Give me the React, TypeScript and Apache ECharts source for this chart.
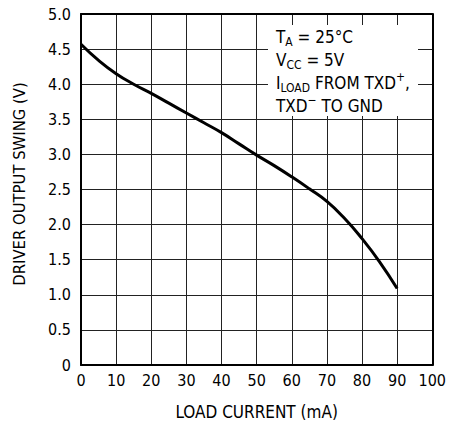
import React, { useEffect, useRef } from "react";
import * as echarts from "echarts";

const loadCurrent = [0, 5, 10, 15, 20, 25, 30, 35, 40, 45, 50, 55, 60, 65, 70, 75, 80, 85, 90];
const outputSwing = [4.57, 4.34, 4.15, 4.0, 3.87, 3.73, 3.59, 3.45, 3.31, 3.15, 2.99, 2.84, 2.68, 2.51, 2.33, 2.09, 1.8, 1.47, 1.09];
const xTicks = { min: 0, max: 100, interval: 10 };
const yTicks = { min: 0, max: 5, interval: 0.5 };

const FONT = "'DejaVu Sans Condensed', 'Liberation Sans Narrow', sans-serif";

export default function App() {
  const ref = useRef<HTMLDivElement>(null);
  useEffect(() => {
    if (!ref.current) return;
    const chart = echarts.init(ref.current, null, { renderer: "svg" });
    const main = { fontSize: 17, fontFamily: FONT, color: "#000", lineHeight: 23 };
    const sub = { fontSize: 12, fontFamily: FONT, color: "#000", lineHeight: 8, verticalAlign: "bottom" };
    const sup = { fontSize: 12, fontFamily: FONT, color: "#000", lineHeight: 8, verticalAlign: "top" };
    const borderAxis = {
      type: "value",
      axisLine: { show: true, onZero: false, lineStyle: { color: "#000", width: 2 } },
      axisTick: { show: false },
      axisLabel: { show: false },
      splitLine: { show: false },
    };
    chart.setOption({
      animation: false,
      backgroundColor: "#fff",
      grid: {
        left: 81,
        right: 16,
        top: 14,
        bottom: 60,
      },
      xAxis: [
        {
          type: "value",
          min: xTicks.min,
          max: xTicks.max,
          interval: xTicks.interval,
          position: "bottom",
          name: "LOAD CURRENT (mA)",
          nameLocation: "middle",
          nameGap: 38,
          nameTextStyle: { fontSize: 17, fontFamily: FONT, color: "#000" },
          axisLine: { show: true, onZero: false, lineStyle: { color: "#000", width: 2 } },
          axisTick: { show: false },
          axisLabel: { fontSize: 16, fontFamily: FONT, color: "#000", margin: 7 },
          splitLine: { show: true, lineStyle: { color: "#222", width: 1 } },
        },
        { ...borderAxis, position: "top", min: xTicks.min, max: xTicks.max },
      ],
      yAxis: [
        {
          type: "value",
          min: yTicks.min,
          max: yTicks.max,
          interval: yTicks.interval,
          position: "left",
          axisLine: { show: true, onZero: false, lineStyle: { color: "#000", width: 2 } },
          axisTick: { show: false },
          axisLabel: {
            fontSize: 16,
            fontFamily: FONT,
            color: "#000",
            margin: 10,
            formatter: (v: number) => (v === 0 ? "0" : v.toFixed(1)),
          },
          splitLine: { show: true, lineStyle: { color: "#222", width: 1 } },
        },
        { ...borderAxis, position: "right", min: yTicks.min, max: yTicks.max },
      ],
      series: [
        {
          type: "line",
          data: loadCurrent.map((x, i) => [x, outputSwing[i]]),
          smooth: true,
          showSymbol: false,
          lineStyle: { color: "#000", width: 3 },
          z: 5,
        },
      ],
      graphic: [
        {
          type: "text",
          x: 19,
          y: 184,
          rotation: Math.PI / 2,
          style: {
            text: "DRIVER OUTPUT SWING (V)",
            fontSize: 16.5,
            fontFamily: FONT,
            fill: "#000",
            align: "center",
            verticalAlign: "middle",
          },
        },
        {
          type: "rect",
          shape: { x: 268, y: 25, width: 150, height: 91 },
          style: { fill: "#fff" },
          z: 10,
        },
        {
          type: "text",
          x: 276,
          y: 25,
          z: 11,
          style: {
            text:
              "{m|T}{s|A}{m| = 25°C}\n{m|V}{s|CC}{m| = 5V}\n{m|I}{s|LOAD}{m| FROM TXD}{p|+}{m|,}\n{m|TXD}{p|−}{m| TO GND}",
            rich: { m: main, s: sub, p: sup },
            verticalAlign: "top",
            align: "left",
          },
        },
      ],
    });
    return () => chart.dispose();
  }, []);
  return <div ref={ref} style={{ position: "fixed", left: 0, top: 0, width: 449, height: 425 }} />;
}
